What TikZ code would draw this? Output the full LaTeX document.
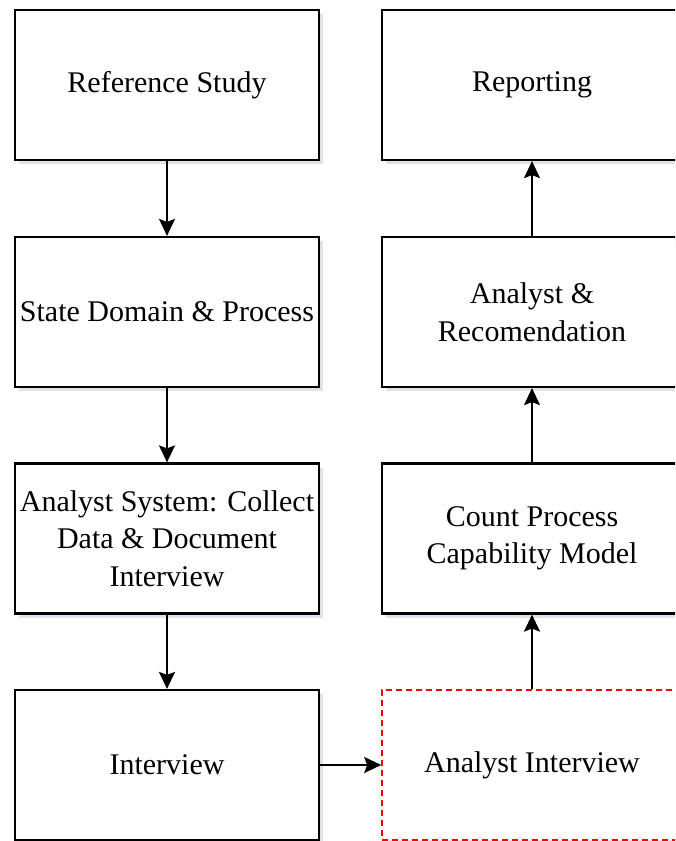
\documentclass[tikz,border=0pt]{standalone}
\usepackage{fontspec}
\setmainfont{Liberation Serif}
\usetikzlibrary{arrows.meta,shadows}
\begin{document}
\begin{tikzpicture}[x=1pt,y=-1pt,
  box/.style={draw=black, line width=2.2pt, fill=white, minimum width=304pt, minimum height=150pt, inner sep=0pt, align=center,
    font=\fontsize{30}{37.5}\selectfont,
    drop shadow={shadow xshift=4pt, shadow yshift=-4pt, opacity=0.4, fill=blue!15!gray!50}},
  rbox/.style={box, minimum width=300pt},
  dbox/.style={rbox, draw=red, dashed, dash pattern=on 6pt off 4pt, line width=1.6pt, drop shadow={opacity=0}},
  arr/.style={line width=2.2pt, -{Stealth[length=17pt,width=16pt,inset=3pt]}}]
\useasboundingbox (0,0) rectangle (675,841);
\clip (0,0) rectangle (675,841);
\fill[white] (0,0) rectangle (675,841);
\node[box] (ref) at (167,85) {Reference Study};
\node[box] (state) at (167,312) {State Domain \& Process};
\node[box] (coll) at (167,538.5) {Analyst System: Collect\\Data \& Document\\Interview};
\node[box] (int) at (167,765) {Interview};
\node[rbox] (rep) at (532,85) {Reporting};
\node[rbox] (rec) at (532,312) {Analyst \&\\Recomendation};
\node[rbox] (cnt) at (532,538.5) {Count Process\\Capability Model};
\node[dbox] (aint) at (532,765) {Analyst Interview};
\draw[arr] (ref) -- (state);
\draw[arr] (state) -- (coll);
\draw[arr] (coll) -- (int);
\draw[arr] (int) -- (aint);
\draw[arr] (aint) -- (cnt);
\draw[arr] (cnt) -- (rec);
\draw[arr] (rec) -- (rep);
\end{tikzpicture}
\end{document}
